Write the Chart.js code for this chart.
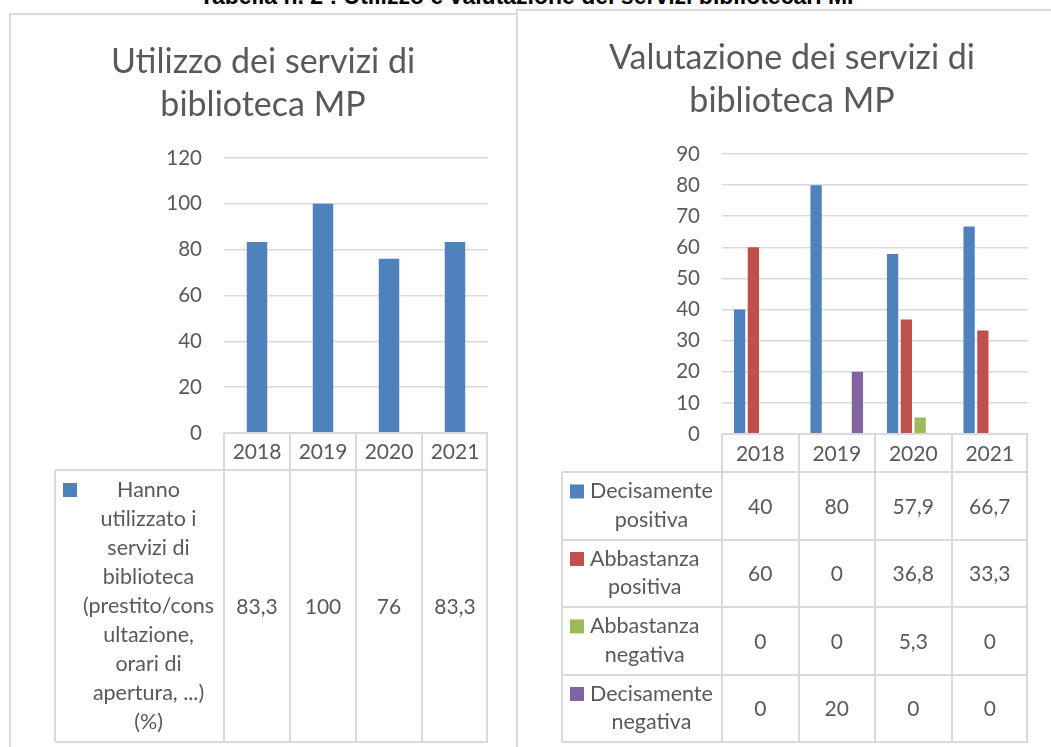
<!DOCTYPE html>
<html>
<head>
<meta charset="utf-8">
<script src="https://cdn.jsdelivr.net/npm/chart.js@4.4.1/dist/chart.umd.min.js"></script>
<style>
  html, body { margin: 0; padding: 0; background: #fff; overflow: hidden; }
  body { width: 1051px; height: 747px; position: relative; font-family: Lato, sans-serif; }
  .caption { position: absolute; top: -17px; left: 0; width: 1062px; line-height: 23px; text-align: center;
    font: bold 23px "Liberation Sans", Arial, sans-serif; color: #000; white-space: nowrap; }
  .panel { position: absolute; border: 2px solid #d9d9d9; box-sizing: border-box; }
  #panelL { left: 9px; top: 13px; width: 509px; height: 760px; border-right: none; }
  #panelR { left: 516px; top: 9px; width: 600px; height: 760px; }
  canvas { position: absolute; }
  #graf-utilizzo { left: 10px; top: 13px; }
  #graf-valutazione { left: 517px; top: 9px; }
</style>
</head>
<body>
<div class="caption">Tabella n. 2 : Utilizzo e valutazione dei servizi bibliotecari MP</div>
<div class="panel" id="panelL"></div>
<div class="panel" id="panelR"></div>
<canvas id="graf-utilizzo" width="478" height="734"></canvas>
<canvas id="graf-valutazione" width="511" height="738"></canvas>
<script>
// anni (categorie comuni ai due grafici)
const anni = ["2018", "2019", "2020", "2021"];

// grafico 1: utilizzo
const utilizzoLabel = ["Hanno", "utilizzato i", "servizi di", "biblioteca", "(prestito/cons",
  "ultazione,", "orari di", "apertura, ...)", "(%)"];
const utilizzoDati = [83.3, 100, 76, 83.3];

// grafico 2: valutazione
const decisPositiva = [40, 80, 57.9, 66.7];
const abbPositiva = [60, 0, 36.8, 33.3];
const abbNegativa = [0, 0, 5.3, 0];
const decisNegativa = [0, 20, 0, 0];
const valutazioneLabel = [
  ["Decisamente", "positiva"],
  ["Abbastanza", "positiva"],
  ["Abbastanza", "negativa"],
  ["Decisamente", "negativa"],
];
const colori = ["#4f81bd", "#c0504d", "#9bbb59", "#8064a2"];

const grigio = "#d9d9d9";
const testo = "#595959";
const font = "Lato";

// tabella dati sotto l'asse x (disegnata con le scale del grafico)
const tabellaDati = {
  id: "tabellaDati",
  afterDraw(chart, args, opts) {
    const c = chart.ctx;
    const area = chart.chartArea;
    const x = chart.scales.x;
    const n = chart.data.labels.length;
    const step = (area.right - area.left) / n;
    const top = area.bottom;
    const headBottom = top + opts.headerH;
    let bottom = headBottom;
    opts.rowH.forEach(h => bottom += h);

    c.save();
    c.strokeStyle = grigio;
    c.lineWidth = 2;
    c.beginPath();
    // verticali colonne
    for (let i = 0; i <= n; i++) {
      const px = Math.min(Math.round(area.left + i * step), area.right - 1);
      c.moveTo(px, top);
      c.lineTo(px, bottom);
    }
    // orizzontali righe
    let y = headBottom;
    c.moveTo(opts.legendLeft, y);
    c.lineTo(area.right, y);
    opts.rowH.forEach(h => {
      y += h;
      c.moveTo(opts.legendLeft, Math.round(y));
      c.lineTo(area.right, Math.round(y));
    });
    c.moveTo(opts.legendLeft, headBottom);
    c.lineTo(opts.legendLeft, bottom);
    c.moveTo(area.left, top);
    c.lineTo(area.right, top);
    c.stroke();

    c.fillStyle = testo;
    c.font = "21px " + font;
    c.textAlign = "center";
    c.textBaseline = "middle";
    // intestazione anni
    chart.data.labels.forEach((l, i) => {
      c.fillText(l, x.getPixelForValue(i), top + opts.headerH / 2 + 1);
    });

    // righe dati
    let rowTop = headBottom;
    chart.data.datasets.forEach((ds, d) => {
      const h = opts.rowH[d];
      const mid = rowTop + h / 2;
      const lines = ds.lines;
      const first = mid - (lines.length * opts.lineH) / 2 + opts.lineH / 2;
      // quadratino legenda
      c.fillStyle = ds.backgroundColor;
      c.fillRect(opts.legendLeft + 8, first - 7, 14, 14);
      c.fillStyle = testo;
      c.font = "21.5px " + font;
      let maxW = 0;
      lines.forEach(l => maxW = Math.max(maxW, c.measureText(l).width));
      const cx = opts.legendLeft + 28 + maxW / 2;
      lines.forEach((l, k) => c.fillText(l, cx, first + k * opts.lineH));
      // valori
      c.font = "21px " + font;
      ds.data.forEach((v, i) => {
        c.fillText(String(v).replace(".", ","), x.getPixelForValue(i), mid + 1);
      });
      rowTop += h;
    });
    c.restore();
  }
};

function opzioni(titolo, max, stepSize, yWidth, padLeft, padBottom, tab) {
  return {
    responsive: false,
    animation: false,
    layout: { padding: { left: padLeft, right: 0, top: 0, bottom: padBottom } },
    plugins: {
      legend: { display: false },
      tooltip: { enabled: false },
      title: {
        display: true,
        text: titolo,
        color: testo,
        font: { family: font, size: 34, weight: "normal", lineHeight: 1.265 },
        padding: { top: 28, bottom: 31 },
      },
      tabellaDati: tab,
    },
    scales: {
      x: { display: false },
      y: {
        min: 0,
        max: max,
        ticks: { stepSize: stepSize, color: testo, padding: 22, font: { family: font, size: 20.5 } },
        grid: { color: grigio, lineWidth: 1.5, drawTicks: false },
        border: { display: false },
        afterFit(scale) { scale.width = yWidth; },
      },
    },
  };
}

new Chart(document.getElementById("graf-utilizzo"), {
  type: "bar",
  data: {
    labels: anni,
    datasets: [
      {
        label: utilizzoLabel.join(" "),
        lines: utilizzoLabel,
        data: utilizzoDati,
        backgroundColor: colori[0],
        categoryPercentage: 0.31,
        barPercentage: 1,
      },
    ],
  },
  options: opzioni(["Utilizzo dei servizi di", "biblioteca MP"], 120, 20, 186, 28, 314,
    { legendLeft: 45, headerH: 37, rowH: [272], lineH: 29 }),
  plugins: [tabellaDati],
});

const serie = [decisPositiva, abbPositiva, abbNegativa, decisNegativa];
new Chart(document.getElementById("graf-valutazione"), {
  type: "bar",
  data: {
    labels: anni,
    datasets: serie.map((s, i) => ({
      label: valutazioneLabel[i].join(" "),
      lines: valutazioneLabel[i],
      data: s,
      backgroundColor: colori[i],
      categoryPercentage: 0.72,
      barPercentage: 0.82,
    })),
  },
  options: opzioni(["Valutazione dei servizi di", "biblioteca MP"], 90, 10, 166, 39, 313,
    { legendLeft: 45, headerH: 38, rowH: [67.5, 67.5, 67.5, 67.5], lineH: 28.6 }),
  plugins: [tabellaDati],
});
</script>
</body>
</html>
